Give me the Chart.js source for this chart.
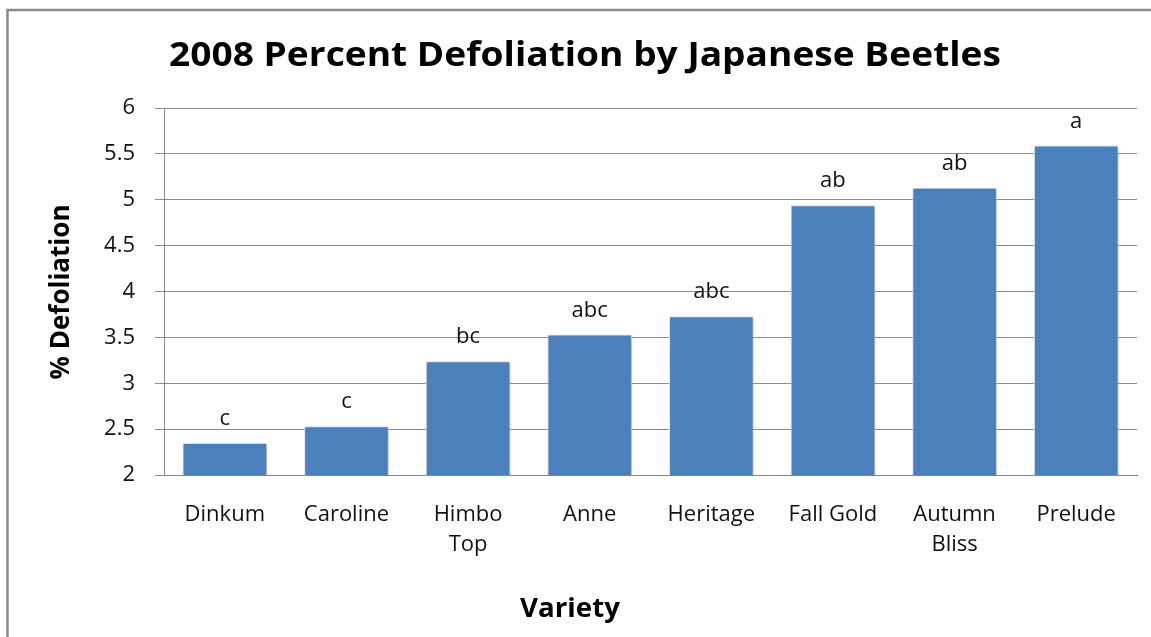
<!DOCTYPE html>
<html>
<head>
<meta charset="utf-8">
<script src="https://cdn.jsdelivr.net/npm/chart.js@4.4.1/dist/chart.umd.min.js"></script>
<style>
  html, body { margin: 0; padding: 0; background: #ffffff; }
  #wrap { position: relative; width: 1151px; height: 637px; }
  canvas { display: block; }
</style>
</head>
<body>
<div id="wrap"><canvas id="c" width="1151" height="637"></canvas></div>
<script>
const chartTitle = '2008 Percent Defoliation by Japanese Beetles';
const xAxisTitle = 'Variety';
const yAxisTitle = '% Defoliation';
const categories = ['Dinkum', 'Caroline', ['Himbo', 'Top'], 'Anne', 'Heritage', 'Fall Gold', ['Autumn', 'Bliss'], 'Prelude'];
const defoliation = [2.35, 2.53, 3.24, 3.53, 3.73, 4.94, 5.13, 5.59];
const letterGroups = ['c', 'c', 'bc', 'abc', 'abc', 'ab', 'ab', 'a'];
const yMin = 2, yMax = 6, yStep = 0.5;

const FONT = '"Open Sans", "Liberation Sans", sans-serif';

function drawWideText(ctx, text, x, y, targetWidth) {
  const w = ctx.measureText(text).width;
  const s = targetWidth / w;
  ctx.save();
  ctx.translate(x, y);
  ctx.scale(s, 1);
  ctx.fillText(text, 0, 0);
  ctx.restore();
}

const framePlugin = {
  id: 'frame',
  beforeDraw(chart) {
    const ctx = chart.ctx;
    ctx.save();
    ctx.fillStyle = '#ffffff';
    ctx.fillRect(0, 0, chart.width, chart.height);
    ctx.strokeStyle = '#8a8a8a';
    ctx.lineWidth = 2.5;
    ctx.strokeRect(7.5, 10, chart.width + 50, chart.height + 50);
    ctx.restore();
  }
};

const shadowPlugin = {
  id: 'barShadow',
  beforeDatasetsDraw(chart) {
    const ctx = chart.ctx;
    ctx.save();
    ctx.shadowColor = 'rgba(0,0,0,0.3)';
    ctx.shadowBlur = 4;
    ctx.shadowOffsetX = 1.5;
    ctx.shadowOffsetY = 1.5;
  },
  afterDatasetsDraw(chart) {
    chart.ctx.restore();
  }
};

const labelPlugin = {
  id: 'textLabels',
  afterDraw(chart) {
    const ctx = chart.ctx;
    ctx.save();
    const meta = chart.getDatasetMeta(0);
    ctx.fillStyle = '#111111';
    ctx.font = '22px ' + FONT;
    ctx.textAlign = 'center';
    ctx.textBaseline = 'alphabetic';
    meta.data.forEach((bar, i) => {
      ctx.fillText(letterGroups[i], bar.x, bar.y - 18);
    });
    ctx.fillStyle = '#000000';
    ctx.font = 'bold 34px ' + FONT;
    drawWideText(ctx, chartTitle, 585, 66, 832);
    ctx.font = 'bold 27px ' + FONT;
    drawWideText(ctx, xAxisTitle, 570, 617, 100);
    ctx.font = 'bold 26px ' + FONT;
    ctx.translate(69, 292);
    ctx.rotate(-Math.PI / 2);
    ctx.fillText(yAxisTitle, 0, 0);
    ctx.restore();
  }
};

new Chart(document.getElementById('c'), {
  type: 'bar',
  data: {
    labels: categories,
    datasets: [{
      data: defoliation,
      backgroundColor: '#4a80bc',
      borderColor: '#e6edf5',
      borderWidth: 1,
      categoryPercentage: 1.0,
      barPercentage: 0.695
    }]
  },
  plugins: [framePlugin, shadowPlugin, labelPlugin],
  options: {
    responsive: false,
    animation: false,
    devicePixelRatio: 1,
    layout: { padding: { top: 108, right: 14, left: 0, bottom: 0 } },
    plugins: {
      legend: { display: false },
      title: { display: false },
      tooltip: { enabled: false }
    },
    scales: {
      x: {
        grid: { display: false, drawTicks: false, tickLength: 0 },
        border: { display: true, color: '#868686', width: 1 },
        ticks: {
          color: '#111111',
          font: { family: FONT, size: 22, lineHeight: 1.36 },
          padding: 25,
          maxRotation: 0,
          minRotation: 0,
          autoSkip: false
        },
        afterFit(scale) { scale.height = 162; }
      },
      y: {
        min: yMin,
        max: yMax,
        grid: { color: '#8c8c8c', lineWidth: 1, drawTicks: true, tickLength: 9, tickColor: '#8c8c8c' },
        border: { display: true, color: '#8c8c8c', width: 1 },
        ticks: {
          stepSize: yStep,
          color: '#111111',
          font: { family: FONT, size: 22 },
          padding: 20,
          callback: (v) => String(v)
        },
        afterFit(scale) { scale.width = 164; }
      }
    }
  }
});
</script>
</body>
</html>
